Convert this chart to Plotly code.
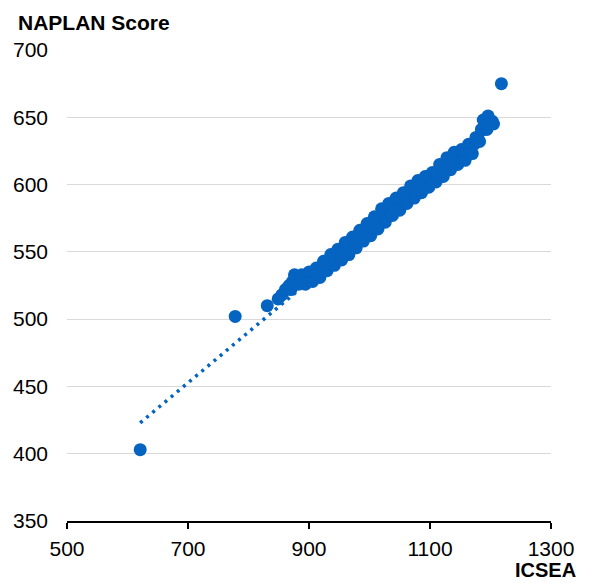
import plotly.graph_objects as go

# ICSEA (x) and NAPLAN score (y) for each school
icsea = [621, 778, 831, 1218,
         849, 855, 861, 867, 873, 879, 885, 891, 897, 903, 909, 915, 921, 927, 933, 939,
         945, 951, 957, 963, 969, 975, 981, 987, 993, 999, 1005, 1011, 1017, 1023, 1029,
         1035, 1041, 1047, 1053, 1059, 1065, 1071, 1077, 1083, 1089, 1095, 1101, 1107,
         1113, 1119, 1125, 1131, 1137, 1143, 1149, 1155, 1161, 1167, 1173, 1179, 1185,
         1191, 1197, 1203,
         876, 888, 900, 912, 924, 936, 948, 960, 972, 984, 996, 1008, 1020, 1032, 1044,
         1056, 1068, 1080, 1092, 1104, 1116, 1128, 1140, 1152, 1164, 1176, 1188, 1196,
         870, 882, 894, 906, 918, 930, 942, 954, 966, 978, 990, 1002, 1014, 1026, 1038,
         1050, 1062, 1074, 1086, 1098, 1110, 1122, 1134, 1146, 1158, 1170, 1182, 1194, 1205]
naplan = [403, 502, 510, 675,
          515, 518, 522, 525, 528, 530, 530, 529, 530, 531, 532, 535, 538, 540, 542, 544,
          546, 548, 550, 552, 554, 557, 560, 562, 564, 567, 569, 572, 575, 577, 579,
          581, 583, 586, 588, 590, 592, 594, 596, 598, 600, 601, 603, 606,
          608, 611, 614, 616, 618, 620, 621, 623, 625, 627, 630, 635, 641,
          645, 648, 647,
          533, 533, 535, 538, 543, 548, 552, 557, 561, 566, 571, 576, 582, 586, 590,
          594, 599, 603, 606, 609, 615, 620, 624, 626, 630, 635, 648, 651,
          522, 526, 526, 528, 531, 536, 540, 544, 548, 553, 558, 562, 567, 572, 577,
          581, 586, 590, 594, 598, 602, 606, 611, 615, 618, 623, 632, 641, 645]

# linear trendline as shown on the chart
trend_slope = 0.377
trend_intercept = 188.8

x_ticks = [500, 700, 900, 1100, 1300]
y_ticks = [350, 400, 450, 500, 550, 600, 650, 700]

BLUE = "#0563C1"

tx = [min(icsea), max(icsea)]
ty = [trend_slope * v + trend_intercept for v in tx]

fig = go.Figure()
fig.add_trace(go.Scatter(x=tx, y=ty, mode="lines",
                         line=dict(color=BLUE, width=3.5, dash="3px,5px"),
                         hoverinfo="skip", showlegend=False))
fig.add_trace(go.Scatter(x=icsea, y=naplan, mode="markers",
                         marker=dict(color=BLUE, size=13, line=dict(width=0)),
                         showlegend=False))

FONT = "Liberation Sans, Arial, sans-serif"
fig.update_layout(
    width=589, height=575,
    margin=dict(l=59, r=46, t=42, b=62),
    paper_bgcolor="white", plot_bgcolor="white",
    font=dict(family=FONT, size=21, color="#000000"),
    xaxis=dict(range=[500, 1300], tickvals=x_ticks, showgrid=False, zeroline=False,
               showline=True, linecolor="#000000", linewidth=1.5, automargin=False,
               ticks="outside", ticklen=6, tickwidth=1.5, tickcolor="#000000",
               ticklabelstandoff=2, tickfont=dict(size=21)),
    yaxis=dict(range=[350, 700], tickvals=y_ticks, showgrid=True, gridcolor="#d9d9d9",
               gridwidth=1.3, zeroline=False, showline=False, ticks="", automargin=False,
               ticklabelstandoff=18, tickfont=dict(size=21)),
    annotations=[
        dict(text="<b>NAPLAN Score</b>", xref="paper", yref="paper", x=-0.105, y=1.087,
             xanchor="left", yanchor="top", showarrow=False, font=dict(size=21)),
        dict(text="<b>ICSEA</b>", xref="paper", yref="paper", x=1.056, y=-0.104,
             xanchor="right", yanchor="middle", showarrow=False, font=dict(size=20)),
    ],
)

fig.write_html("out.html")
